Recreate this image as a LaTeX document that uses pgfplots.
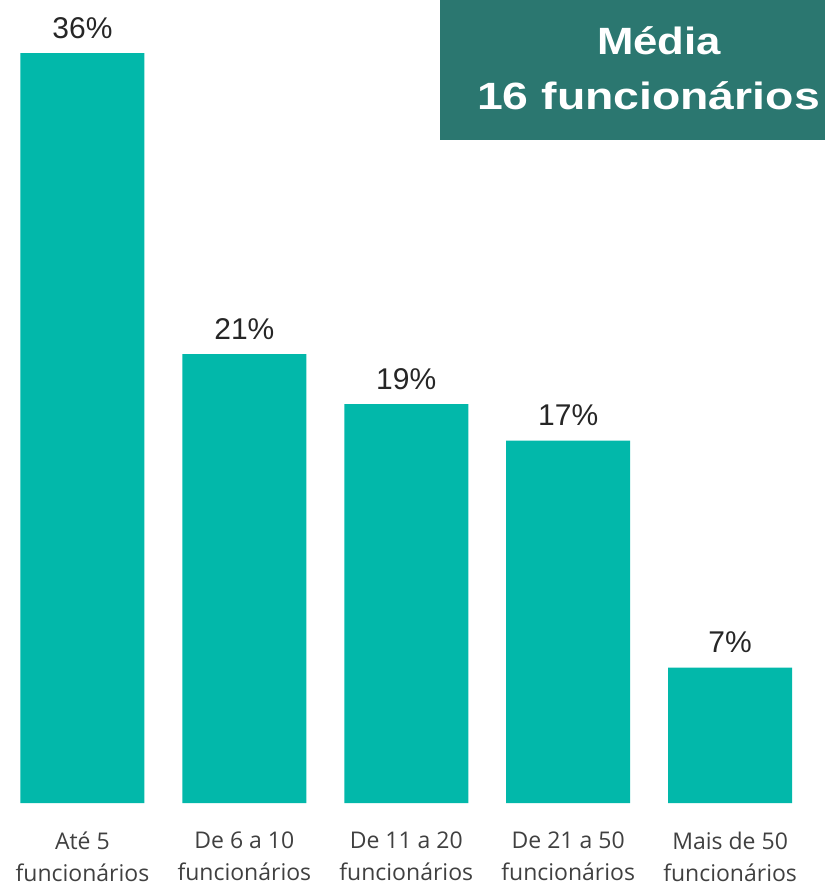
\documentclass[border=0pt]{standalone}
\usepackage{pgfplots}
\pgfplotsset{compat=1.18}
\usepackage{fontspec}
\setmainfont{Liberation Sans}
\newfontfamily\labfont{Open Sans}
\definecolor{barc}{HTML}{02B8AA}
\definecolor{boxc}{HTML}{2B7770}
\definecolor{txt}{HTML}{262626}
\definecolor{lab}{HTML}{404040}
\begin{document}
\begin{tikzpicture}[x=1pt,y=1pt]
\begin{axis}[
  at={(0,0)}, anchor=south west,
  scale only axis, width=825pt, height=803pt,
  xmin=-0.509, xmax=4.586, ymin=0, ymax=38.55,
  axis line style={draw=none}, tick style={draw=none},
  ytick=\empty, xtick={0,1,2,3,4},
  xticklabels={{Até 5\\funcionários},{De 6 a 10\\funcionários},{De 11 a 20\\funcionários},{De 21 a 50\\funcionários},{Mais de 50\\funcionários}},
  xticklabel style={align=center, font=\labfont\fontsize{23}{32}\selectfont, text=lab, yshift=-21pt},
  ybar, bar width=124pt, bar shift=0pt,
  point meta=explicit,
  /pgf/number format/assume math mode=true,
  nodes near coords={\pgfmathprintnumber{\pgfplotspointmeta}\%},
  every node near coord/.append style={font=\fontsize{30}{30}\selectfont, text=txt, yshift=11pt},
  clip=false,
]
\addplot[fill=barc, draw=none] table[x=x, y=y, meta=lab] {
x y lab
0 36 36
1 21.55 21
2 19.15 19
3 17.4 17
4 6.5 7
};
\end{axis}
\fill[boxc] (440,663) rectangle (825,803);
\node[anchor=base, text=white, font=\bfseries\fontsize{38}{38}\selectfont, xscale=1.15, transform shape] at (659,748) {Média};
\node[anchor=base, text=white, font=\bfseries\fontsize{38}{38}\selectfont, xscale=1.22, transform shape] at (648.5,693) {16 funcionários};
\pgfresetboundingbox
\path[use as bounding box] (0,-88) rectangle (825,803);
\end{tikzpicture}
\end{document}
